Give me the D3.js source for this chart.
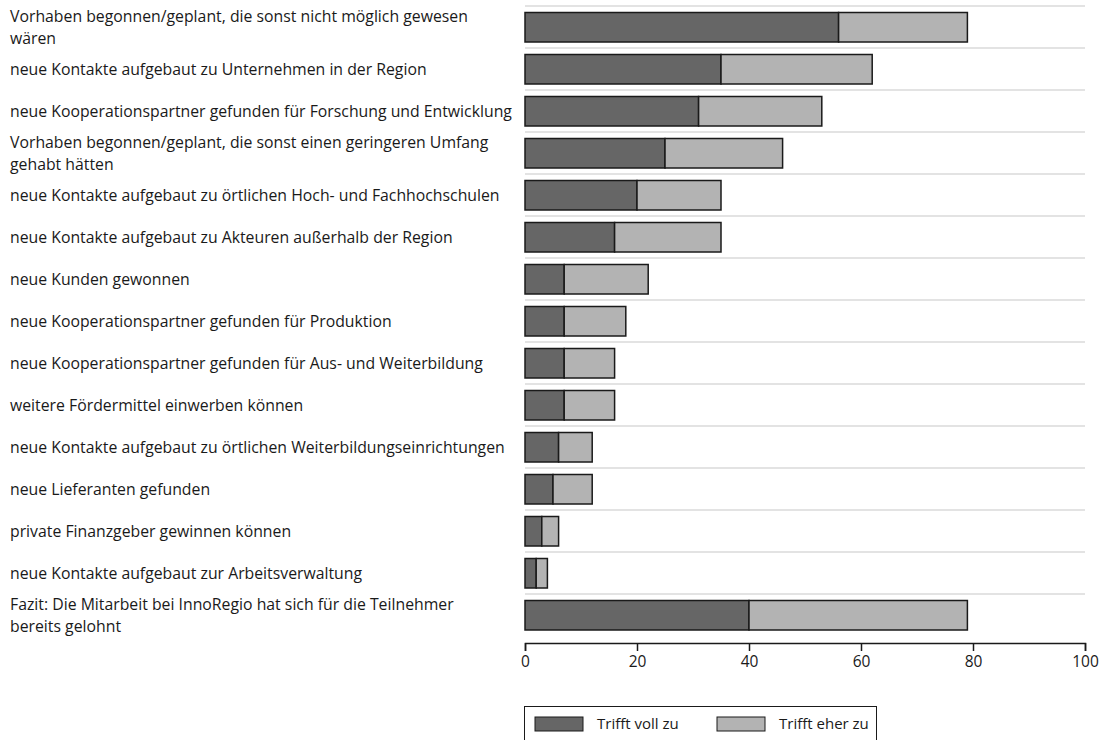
<!DOCTYPE html>
<html>
<head>
<meta charset="utf-8">
<script src="https://cdn.jsdelivr.net/npm/d3@7"></script>
<style>
  body { margin: 0; background: #fff; }
  svg text { font-family: "Open Sans", "Noto Sans", sans-serif; fill: #1a1a1a; }
</style>
</head>
<body>
<svg width="1111" height="740"></svg>
<script>
  // categories, top to bottom ("\n" = line break as in the original)
  var categories = [
    'Vorhaben begonnen/geplant, die sonst nicht möglich gewesen\nwären',
    'neue Kontakte aufgebaut zu Unternehmen in der Region',
    'neue Kooperationspartner gefunden für Forschung und Entwicklung',
    'Vorhaben begonnen/geplant, die sonst einen geringeren Umfang\ngehabt hätten',
    'neue Kontakte aufgebaut zu örtlichen Hoch- und Fachhochschulen',
    'neue Kontakte aufgebaut zu Akteuren außerhalb der Region',
    'neue Kunden gewonnen',
    'neue Kooperationspartner gefunden für Produktion',
    'neue Kooperationspartner gefunden für Aus- und Weiterbildung',
    'weitere Fördermittel einwerben können',
    'neue Kontakte aufgebaut zu örtlichen Weiterbildungseinrichtungen',
    'neue Lieferanten gefunden',
    'private Finanzgeber gewinnen können',
    'neue Kontakte aufgebaut zur Arbeitsverwaltung',
    'Fazit: Die Mitarbeit bei InnoRegio hat sich für die Teilnehmer\nbereits gelohnt'
  ];

  var trifftVoll = [56, 35, 31, 25, 20, 16, 7, 7, 7, 7, 6, 5, 3, 2, 40];
  var trifftEher = [23, 27, 22, 21, 15, 19, 15, 11, 9, 9, 6, 7, 3, 2, 39];

  var seriesNames = ['Trifft voll zu', 'Trifft eher zu'];
  var seriesColors = ['#666666', '#b3b3b3'];
  var xTicks = [0, 20, 40, 60, 80, 100];

  var svg = d3.select('svg');

  var rows = categories.map(function(c, i) {
    return { cat: c, voll: trifftVoll[i], eher: trifftEher[i] };
  });

  var stack = d3.stack().keys(['voll', 'eher'])(rows);

  var x = d3.scaleLinear().domain([0, 100]).range([525, 1085]);
  var band = d3.scaleBand().domain(categories).range([6, 636]);

  // gridlines at top of each row
  svg.append('g')
    .selectAll('line')
    .data(categories)
    .enter().append('line')
    .attr('x1', x(0))
    .attr('x2', x(100))
    .attr('y1', function(d) { return band(d); })
    .attr('y2', function(d) { return band(d); })
    .attr('stroke', '#dadada')
    .attr('stroke-width', 1.5);

  // bars
  svg.append('g')
    .selectAll('g')
    .data(stack)
    .enter().append('g')
    .attr('fill', function(d, i) { return seriesColors[i]; })
    .selectAll('rect')
    .data(function(d) { return d; })
    .enter().append('rect')
    .attr('x', function(d) { return x(d[0]); })
    .attr('width', function(d) { return x(d[1]) - x(d[0]); })
    .attr('y', function(d) { return band(d.data.cat) + 6.5; })
    .attr('height', 29.5)
    .attr('stroke', '#1a1a1a')
    .attr('stroke-width', 1.5);

  // category labels
  var labels = svg.append('g')
    .selectAll('text')
    .data(categories)
    .enter().append('text')
    .attr('x', 10)
    .attr('y', function(d) { return band(d) + 21.25; })
    .style('font-size', '15.8px');

  labels.each(function(d) {
    var lines = d.split('\n');
    var t = d3.select(this);
    lines.forEach(function(l, i) {
      t.append('tspan')
        .attr('x', 10)
        .attr('dy', i === 0 ? (lines.length > 1 ? '-0.33em' : '0.35em') : '1.37em')
        .text(l);
    });
  });

  // x axis
  var axis = svg.append('g')
    .attr('transform', 'translate(0,643)')
    .call(d3.axisBottom(x).tickValues(xTicks).tickSize(8).tickPadding(5));
  axis.select('.domain').attr('stroke', '#1a1a1a').attr('stroke-width', 1.5);
  axis.selectAll('.tick line').attr('stroke', '#1a1a1a').attr('stroke-width', 1.5);
  axis.selectAll('.tick text')
    .style('font-family', '"Open Sans", sans-serif')
    .style('font-size', '15.5px')
    .attr('fill', '#1a1a1a');

  // legend
  var legend = svg.append('g');
  legend.append('rect')
    .attr('x', 524.5).attr('y', 706.5)
    .attr('width', 352).attr('height', 60)
    .attr('fill', 'none').attr('stroke', '#1a1a1a').attr('stroke-width', 1);

  var legendX = [535, 717];
  seriesNames.forEach(function(name, i) {
    legend.append('rect')
      .attr('x', legendX[i]).attr('y', 717)
      .attr('width', 48).attr('height', 14)
      .attr('fill', seriesColors[i])
      .attr('stroke', '#1a1a1a').attr('stroke-width', 1);
    legend.append('text')
      .attr('x', legendX[i] + 62).attr('y', 729)
      .style('font-size', '15px')
      .text(name);
  });
</script>
</body>
</html>
